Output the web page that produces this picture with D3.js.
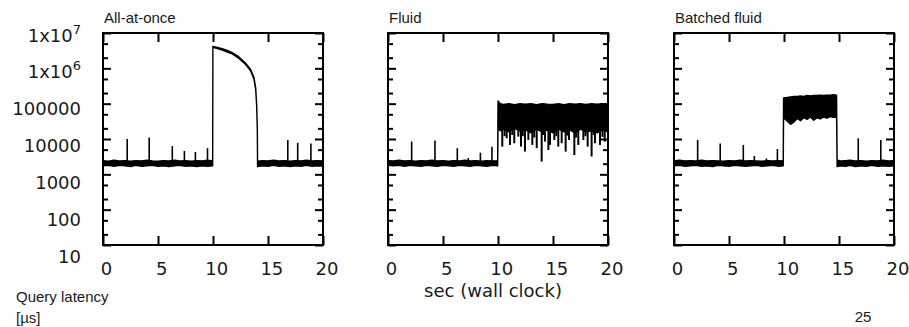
<!DOCTYPE html>
<html>
<head>
<meta charset="utf-8">
<script src="https://cdn.jsdelivr.net/npm/d3@7"></script>
<style>
  body { margin: 0; background: #fff; }
  svg { display: block; }
</style>
</head>
<body>
<svg id="chart" width="909" height="327"></svg>
<script>

// tick values and titles
var xTicks = [0, 5, 10, 15, 20];
var yTicks = [10, 100, 1000, 10000, 100000, 1e6, 1e7];
var titles = ["All-at-once", "Fluid", "Batched fluid"];

// band rows: [sec, low, high] latency in us
var bandAll = [
  [0,1750,2450],[0.5,1800,2350],[1,1700,2500],[1.5,1800,2400],[2,1750,2450],
  [2.5,1650,2350],[3,1800,2450],[3.5,1700,2400],[4,1750,2500],[4.5,1800,2400],
  [5,1700,2350],[5.5,1750,2450],[6,1650,2400],[6.5,1750,2500],[7,1800,2400],
  [7.5,1700,2450],[8,1750,2350],[8.5,1650,2450],[9,1750,2400],[9.5,1700,2500],
  [9.97,1750,2400],
  [9.99,3.9e6,4.2e6],[10.4,3.6e6,3.9e6],[10.84,3.3e6,3.6e6],[11.3,2.9e6,3.2e6],
  [11.75,2.55e6,2.8e6],[12.36,1.9e6,2.1e6],[12.97,1.28e6,1.4e6],[13.42,8.5e5,9.3e5],
  [13.73,4.9e5,5.4e5],[13.88,2.5e5,2.8e5],[13.97,8.6e4,9.4e4],[14.03,1.8e4,2.0e4],
  [14.05,1650,2350],[14.5,1750,2450],[15,1700,2400],[15.5,1800,2500],[16,1700,2400],
  [16.5,1750,2450],[17,1650,2350],[17.5,1750,2450],[18,1700,2400],[18.5,1800,2500],
  [19,1700,2400],[19.5,1750,2450],[20,1700,2400]
];
// upward spikes: [sec, peak]
var spikesAll = [
  [2.2,1.0e4],[4.2,1.1e4],[6.3,6.3e3],[7.4,4.6e3],[8.4,4.3e3],[9.5,5.5e3],
  [16.8,9.3e3],[17.7,7.8e3],[18.9,7.5e3]
];

var bandFluid = [
  [0,1800,2450],[0.5,1750,2400],[1,1800,2500],[1.5,1700,2400],[2,1800,2450],
  [2.5,1750,2350],[3,1700,2450],[3.5,1800,2400],[4,1750,2500],[4.5,1700,2400],
  [5,1800,2450],[5.5,1750,2350],[6,1700,2450],[6.5,1800,2400],[7,1750,2500],
  [7.5,1700,2400],[8,1800,2450],[8.5,1750,2350],[9,1700,2450],[9.5,1800,2400],
  [9.97,1750,2450],
  [10.0,2.0e4,1.2e5],[10.2,1.7e4,1.0e5],[10.5,1.9e4,9.5e4],[11,1.6e4,1.0e5],
  [11.5,2.0e4,9.3e4],[12,1.7e4,1.0e5],[12.5,1.8e4,9.6e4],[13,1.5e4,1.0e5],
  [13.5,1.9e4,9.4e4],[14,1.6e4,1.0e5],[14.5,1.8e4,9.7e4],[15,1.5e4,9.5e4],
  [15.5,1.9e4,1.0e5],[16,1.6e4,9.4e4],[16.5,1.8e4,1.0e5],[17,1.5e4,9.6e4],
  [17.5,1.9e4,1.0e5],[18,1.6e4,9.5e4],[18.5,1.7e4,1.0e5],[19,1.5e4,9.6e4],
  [19.5,1.8e4,1.0e5],[20,1.6e4,9.8e4]
];
var spikesFluid = [
  [2.15,8.5e3],[4.27,9.0e3],[6.3,5.5e3],[7.3,2.9e3],[8.4,4.1e3],[9.45,6.0e3]
];
// downward spikes: [sec, lowest]
var dipsFluid = [
  [10.39,6.1e3],[10.6,1.2e4],[10.79,1.05e4],[11.09,6.8e3],[11.3,1.3e4],[11.48,7.6e3],
  [11.85,1.17e4],[12.09,6.1e3],[12.25,1.2e4],[12.45,4.4e3],[12.76,9.4e3],[13.12,6.8e3],
  [13.3,1.1e4],[13.52,5.5e3],[13.97,2.3e3],[14.1,1.3e4],[14.27,8.4e3],[14.58,4.9e3],
  [14.73,6.8e3],[15.12,9.4e3],[15.3,1.2e4],[15.48,6.1e3],[15.79,7.6e3],[16.15,4.4e3],
  [16.3,1.25e4],[16.45,9.4e3],[16.94,3.5e3],[17.1,1.1e4],[17.3,6.8e3],[17.76,9.4e3],
  [17.95,1.2e4],[18.15,6.1e3],[18.51,3.2e3],[18.7,1.3e4],[18.82,7.6e3],[19.27,6.8e3],
  [19.5,1.15e4],[19.7,8.4e3]
];

var bandBatched = [
  [0,1750,2400],[0.5,1800,2500],[1,1700,2400],[1.5,1750,2450],[2,1800,2400],
  [2.5,1700,2500],[3,1750,2400],[3.5,1650,2450],[4,1800,2400],[4.5,1750,2350],
  [5,1700,2450],[5.5,1800,2400],[6,1750,2500],[6.5,1700,2400],[7,1750,2450],
  [7.5,1800,2400],[8,1700,2350],[8.5,1750,2450],[9,1800,2400],[9.5,1700,2450],
  [9.93,1750,2400],
  [9.96,4.0e4,1.45e5],[10.3,3.2e4,1.5e5],[10.6,2.6e4,1.55e5],[10.9,3.0e4,1.6e5],
  [11.2,3.8e4,1.6e5],[11.5,3.3e4,1.65e5],[11.8,4.0e4,1.6e5],[12.1,3.6e4,1.7e5],
  [12.4,4.2e4,1.65e5],[12.7,3.4e4,1.7e5],[13,4.0e4,1.7e5],[13.3,3.7e4,1.75e5],
  [13.6,4.2e4,1.7e5],[13.9,3.9e4,1.75e5],[14.2,4.3e4,1.75e5],[14.5,4.1e4,1.8e5],
  [14.78,4.2e4,1.75e5],
  [14.83,1650,2500],[15.2,1750,2400],[15.6,1700,2450],[16,1800,2500],[16.5,1650,2400],
  [17,1750,2450],[17.5,1700,2350],[18,1800,2450],[18.5,1700,2400],[19,1750,2500],
  [19.5,1700,2400],[20,1750,2450]
];
var spikesBatched = [
  [2.15,9.4e3],[4.2,7.5e3],[6.3,6.8e3],[7.3,3.3e3],[8.4,2.8e3],[9.4,5.2e3],
  [16.75,1.05e4],[18.8,9.4e3]
];

var panels = [
  {title: titles[0], band: bandAll, up: spikesAll, down: [], left: 103},
  {title: titles[1], band: bandFluid, up: spikesFluid, down: dipsFluid, left: 388},
  {title: titles[2], band: bandBatched, up: spikesBatched, down: [], left: 674}
];

var svg = d3.select("#chart");
var plotTop = 33, plotBottom = 245, plotW = 220;
var ink = "#000", textCol = "#1a1a1a";
var numFont = "'DejaVu Sans', sans-serif";
var sansFont = "'Liberation Sans', Arial, sans-serif";

var y = d3.scaleLog().domain([10, 1e7]).range([plotBottom, plotTop]);
var yLab = d3.scaleLog().domain([10, 1e7]).range([256, 35]);

var yMinor = [];
yTicks.slice(0, -1).forEach(function(d) { yMinor.push(d * 2, d * 5); });

// inward tick marks, drawn with d3 axes
function cleanAxis(g) {
  g.select(".domain").remove();
  g.selectAll(".tick line").attr("stroke", ink).attr("stroke-width", 2);
}

panels.forEach(function(p, i) {
  var x = d3.scaleLinear().domain([0, 20]).range([p.left, p.left + plotW]);
  var xLab = d3.scaleLinear().domain([0, 20]).range([p.left + 3.5, p.left + plotW + 4]);
  var g = svg.append("g");

  // data band
  var area = d3.area()
    .x(function(d) { return x(d[0]); })
    .y0(function(d) { return y(d[1]); })
    .y1(function(d) { return y(d[2]); });

  g.append("path")
    .datum(p.band)
    .attr("d", area)
    .attr("fill", ink)
    .attr("stroke", ink)
    .attr("stroke-width", 1.4)
    .attr("stroke-linejoin", "round");

  g.selectAll("line.up")
    .data(p.up)
    .join("line")
    .attr("class", "up")
    .attr("x1", function(d) { return x(d[0]); })
    .attr("x2", function(d) { return x(d[0]); })
    .attr("y1", y(2100))
    .attr("y2", function(d) { return y(d[1]); })
    .attr("stroke", ink)
    .attr("stroke-width", 1.6);

  g.selectAll("line.down")
    .data(p.down)
    .join("line")
    .attr("class", "down")
    .attr("x1", function(d) { return x(d[0]); })
    .attr("x2", function(d) { return x(d[0]); })
    .attr("y1", y(2.0e4))
    .attr("y2", function(d) { return y(d[1]); })
    .attr("stroke", ink)
    .attr("stroke-width", 2);

  g.append("g").attr("transform", "translate(0," + plotBottom + ")")
    .call(d3.axisBottom(x).tickValues(xTicks).tickSize(-9).tickFormat(""))
    .call(cleanAxis);
  g.append("g").attr("transform", "translate(0," + plotTop + ")")
    .call(d3.axisTop(x).tickValues(xTicks).tickSize(-9).tickFormat(""))
    .call(cleanAxis);
  g.append("g").attr("transform", "translate(" + p.left + ",0)")
    .call(d3.axisLeft(y).tickValues(yTicks).tickSize(-8).tickFormat(""))
    .call(cleanAxis);
  g.append("g").attr("transform", "translate(" + p.left + ",0)")
    .call(d3.axisLeft(y).tickValues(yMinor).tickSize(-5).tickFormat(""))
    .call(cleanAxis);
  g.append("g").attr("transform", "translate(" + (p.left + plotW) + ",0)")
    .call(d3.axisRight(y).tickValues(yTicks).tickSize(-8).tickFormat(""))
    .call(cleanAxis);
  g.append("g").attr("transform", "translate(" + (p.left + plotW) + ",0)")
    .call(d3.axisRight(y).tickValues(yMinor).tickSize(-5).tickFormat(""))
    .call(cleanAxis);

  g.append("rect")
    .attr("x", p.left).attr("y", plotTop)
    .attr("width", plotW).attr("height", plotBottom - plotTop)
    .attr("fill", "none").attr("stroke", ink).attr("stroke-width", 2);

  // x labels
  g.selectAll("text.xl")
    .data(xTicks)
    .join("text")
    .attr("class", "xl")
    .attr("x", function(d) { return xLab(d); })
    .attr("y", 275)
    .attr("text-anchor", "middle")
    .style("font-family", numFont)
    .style("font-size", "18px")
    .attr("fill", textCol)
    .text(function(d) { return d; });

  g.append("text")
    .attr("x", p.left + 1)
    .attr("y", 23)
    .style("font-family", sansFont)
    .style("font-size", "15px")
    .attr("fill", textCol)
    .text(p.title);
});

// y labels on the left panel only
var yl = svg.selectAll("text.yl")
  .data(yTicks)
  .join("text")
  .attr("class", "yl")
  .attr("x", 81)
  .attr("y", function(d) { return yLab(d) + 6.5; })
  .attr("text-anchor", "end")
  .style("font-family", numFont)
  .style("font-size", "18px")
  .attr("fill", textCol);

yl.each(function(d) {
  var t = d3.select(this);
  if (d >= 1e6) {
    t.append("tspan").text("1x10");
    t.append("tspan").attr("dy", -8).style("font-size", "13px")
      .text(Math.round(Math.log10(d)));
  } else {
    t.text(d);
  }
});

svg.append("text")
  .attr("x", 493).attr("y", 297)
  .attr("text-anchor", "middle")
  .style("font-family", numFont)
  .style("font-size", "18px")
  .attr("fill", textCol)
  .text("sec (wall clock)");

svg.append("text")
  .attr("x", 16).attr("y", 302)
  .style("font-family", sansFont)
  .style("font-size", "15px")
  .attr("fill", textCol)
  .text("Query latency");

svg.append("text")
  .attr("x", 16).attr("y", 323)
  .style("font-family", sansFont)
  .style("font-size", "15px")
  .attr("fill", textCol)
  .text("[µs]");

svg.append("text")
  .attr("x", 863).attr("y", 322)
  .attr("text-anchor", "middle")
  .style("font-family", sansFont)
  .style("font-size", "15px")
  .attr("fill", textCol)
  .text("25");

</script>
</body>
</html>
